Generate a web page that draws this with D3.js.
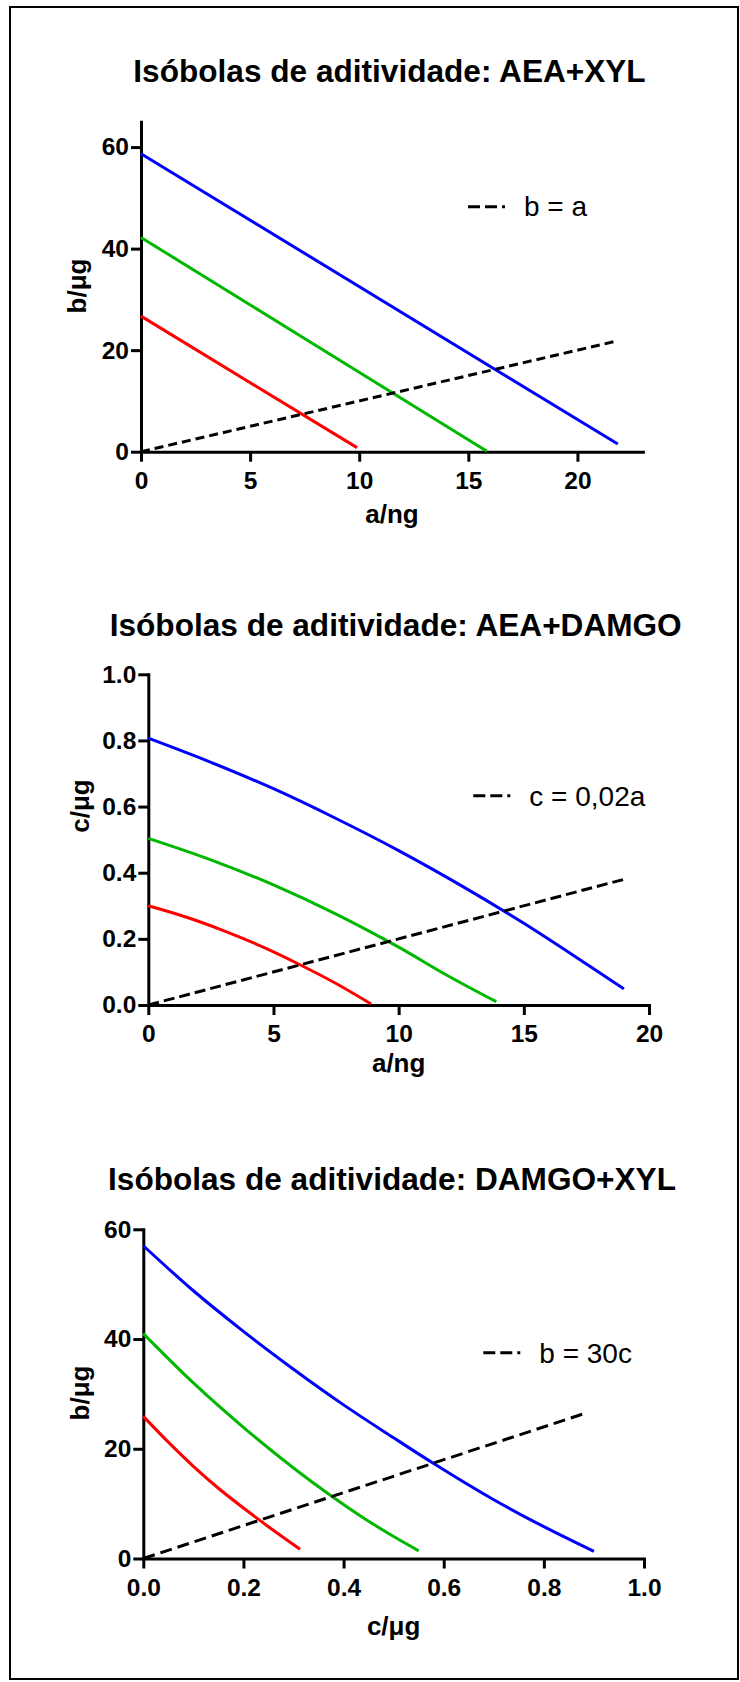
<!DOCTYPE html>
<html>
<head>
<meta charset="utf-8">
<script src="https://cdnjs.cloudflare.com/ajax/libs/d3/7.8.5/d3.min.js"></script>
<style>
body { margin: 0; background: #fff; }
svg { display: block; font-family: "Liberation Sans", Arial, sans-serif; }
</style>
</head>
<body>
<div id="canvas"></div>
<script>
const width = 740;
const height = 1682;

// textos
const titles = ['Isóbolas de aditividade: AEA+XYL', 'Isóbolas de aditividade: AEA+DAMGO', 'Isóbolas de aditividade: DAMGO+XYL'];
const xTitles = ['a/ng', 'a/ng', 'c/μg'];
const yTitles = ['b/μg', 'c/μg', 'b/μg'];
const legendLabels = ['b = a', 'c = 0,02a', 'b = 30c'];

// painel 1: AEA+XYL  (x = a/ng, y = b/ug)
const p1XTicks = [0, 5, 10, 15, 20];
const p1YTicks = [0, 20, 40, 60];
const p1Blue = [[0, 58.7], [21.85, 1.5]];
const p1Green = [[0, 42.2], [15.85, 0.1]];
const p1Red = [[0, 26.7], [9.9, 0.8]];
const p1Dash = [[0, 0], [21.85, 21.85]];

// painel 2: AEA+DAMGO  (x = a/ng, y = c/ug)
const p2XTicks = [0, 5, 10, 15, 20];
const p2YTicks = [0, 0.2, 0.4, 0.6, 0.8, 1.0];
const p2Blue = [[0, 0.807], [2.5, 0.734], [5, 0.654], [7.5, 0.564], [10, 0.467], [12.5, 0.361], [15, 0.247], [17.5, 0.124], [19, 0.049]];
const p2Green = [[0, 0.504], [2.5, 0.439], [5, 0.363], [7.5, 0.275], [10, 0.175], [12, 0.087], [13.9, 0.01]];
const p2Red = [[0, 0.300], [1.5, 0.266], [3, 0.225], [4.5, 0.178], [6, 0.124], [7.5, 0.065], [8.9, 0.003]];
const p2Dash = [[0, 0], [19, 0.38]];

// painel 3: DAMGO+XYL  (x = c/ug, y = b/ug)
const p3XTicks = [0, 0.2, 0.4, 0.6, 0.8, 1.0];
const p3YTicks = [0, 20, 40, 60];
const p3Blue = [[0, 57.0], [0.1, 48.8], [0.2, 41.4], [0.3, 34.5], [0.4, 28.0], [0.5, 22.0], [0.58, 17.3], [0.7, 10.7], [0.8, 5.8], [0.9, 1.3]];
const p3Green = [[0, 41.0], [0.1, 32.0], [0.2, 23.9], [0.3, 16.5], [0.377, 11.3], [0.433, 7.8], [0.5, 4.0], [0.55, 1.4]];
const p3Red = [[0, 25.9], [0.05, 21.2], [0.1, 16.8], [0.15, 12.8], [0.2, 9.2], [0.25, 5.8], [0.313, 1.7]];
const p3Dash = [[0, 0], [0.885, 26.55]];

const colors = { blue: '#0000ff', green: '#00b800', red: '#ff0000' };

const panels = [
  { title: titles[0], titleX: 389.5, titleY: 82.3,
    xDomain: [0, 23], xRange: [141, 642.9], yDomain: [0, 65], yRange: [451.7, 121.7],
    xTicks: p1XTicks, yTicks: p1YTicks, xFmt: 'd', yFmt: 'd',
    xTitle: xTitles[0], xTitleY: 523, yTitle: yTitles[0], yTitleX: 86, yTitleY: 286,
    series: [p1Blue, p1Green, p1Red], dash: p1Dash, dashArray: '9,5', curve: d3.curveLinear,
    legend: legendLabels[0], legX: 468, legY: 206.7, legTextY: 215.7 },
  { title: titles[1], titleX: 395.7, titleY: 636,
    xDomain: [0, 20], xRange: [148.3, 649], yDomain: [0, 1], yRange: [1005, 674.3],
    xTicks: p2XTicks, yTicks: p2YTicks, xFmt: 'd', yFmt: '.1f',
    xTitle: xTitles[1], xTitleY: 1072, yTitle: yTitles[1], yTitleX: 88.5, yTitleY: 806,
    series: [p2Blue, p2Green, p2Red], dash: p2Dash, dashArray: '11,5', curve: d3.curveMonotoneX,
    legend: legendLabels[1], legX: 473.3, legY: 795.7, legTextY: 805.7 },
  { title: titles[2], titleX: 392, titleY: 1190,
    xDomain: [0, 1], xRange: [143.3, 644], yDomain: [0, 60], yRange: [1558.5, 1229.3],
    xTicks: p3XTicks, yTicks: p3YTicks, xFmt: '.1f', yFmt: 'd',
    xTitle: xTitles[2], xTitleY: 1635, yTitle: yTitles[2], yTitleX: 88.5, yTitleY: 1393,
    series: [p3Blue, p3Green, p3Red], dash: p3Dash, dashArray: '12,6', curve: d3.curveMonotoneX,
    legend: legendLabels[2], legX: 483.3, legY: 1352.7, legTextY: 1362.7 }
];

const svg = d3.select('#canvas').append('svg')
  .attr('width', width)
  .attr('height', height);

svg.append('rect')
  .attr('x', 10).attr('y', 7)
  .attr('width', 728).attr('height', 1672)
  .attr('fill', 'none')
  .attr('stroke', '#000')
  .attr('stroke-width', 2);

function drawPanel(p) {
  const xScale = d3.scaleLinear().domain(p.xDomain).range(p.xRange);
  const yScale = d3.scaleLinear().domain(p.yDomain).range(p.yRange);
  const g = svg.append('g');

  g.append('text')
    .attr('x', p.titleX).attr('y', p.titleY)
    .attr('text-anchor', 'middle')
    .attr('font-size', 31.6).attr('font-weight', 'bold')
    .text(p.title);

  const xAxis = d3.axisBottom(xScale).tickValues(p.xTicks).tickFormat(d3.format(p.xFmt))
    .tickSize(10).tickSizeOuter(0).tickPadding(10);
  const yAxis = d3.axisLeft(yScale).tickValues(p.yTicks).tickFormat(d3.format(p.yFmt))
    .tickSize(10).tickSizeOuter(0).tickPadding(2);

  const gx = g.append('g').attr('transform', `translate(0,${p.yRange[0]})`).call(xAxis);
  const gy = g.append('g').attr('transform', `translate(${p.xRange[0]},0)`).call(yAxis);

  [gx, gy].forEach(a => {
    a.attr('font-family', null).attr('font-size', null);
    a.selectAll('.domain').attr('stroke-width', 3).attr('stroke-linecap', 'square');
    a.selectAll('.tick line').attr('stroke-width', 3);
    a.selectAll('.tick text').attr('font-size', 24.5).attr('font-weight', 'bold').attr('fill', '#000');
  });

  const cx = (p.xRange[0] + p.xRange[1]) / 2;
  g.append('text')
    .attr('x', cx).attr('y', p.xTitleY)
    .attr('text-anchor', 'middle')
    .attr('font-size', 26).attr('font-weight', 'bold')
    .text(p.xTitle);

  g.append('text')
    .attr('transform', `translate(${p.yTitleX},${p.yTitleY}) rotate(-90)`)
    .attr('text-anchor', 'middle')
    .attr('font-size', 26).attr('font-weight', 'bold')
    .text(p.yTitle);

  const line = d3.line()
    .x(d => xScale(d[0]))
    .y(d => yScale(d[1]))
    .curve(p.curve);

  const cols = [colors.blue, colors.green, colors.red];
  p.series.forEach((s, i) => {
    g.append('path')
      .attr('d', line(s))
      .attr('fill', 'none')
      .attr('stroke', cols[i])
      .attr('stroke-width', 3);
  });

  g.append('path')
    .attr('d', d3.line().x(d => xScale(d[0])).y(d => yScale(d[1]))(p.dash))
    .attr('fill', 'none')
    .attr('stroke', '#000')
    .attr('stroke-width', 3)
    .attr('stroke-dasharray', p.dashArray);

  // legenda
  g.append('line')
    .attr('x1', p.legX).attr('x2', p.legX + 37)
    .attr('y1', p.legY).attr('y2', p.legY)
    .attr('stroke', '#000')
    .attr('stroke-width', 3)
    .attr('stroke-dasharray', '12,5');

  g.append('text')
    .attr('x', p.legX + 56).attr('y', p.legTextY)
    .attr('font-size', 28)
    .text(p.legend);
}

panels.forEach(drawPanel);
</script>
</body>
</html>
